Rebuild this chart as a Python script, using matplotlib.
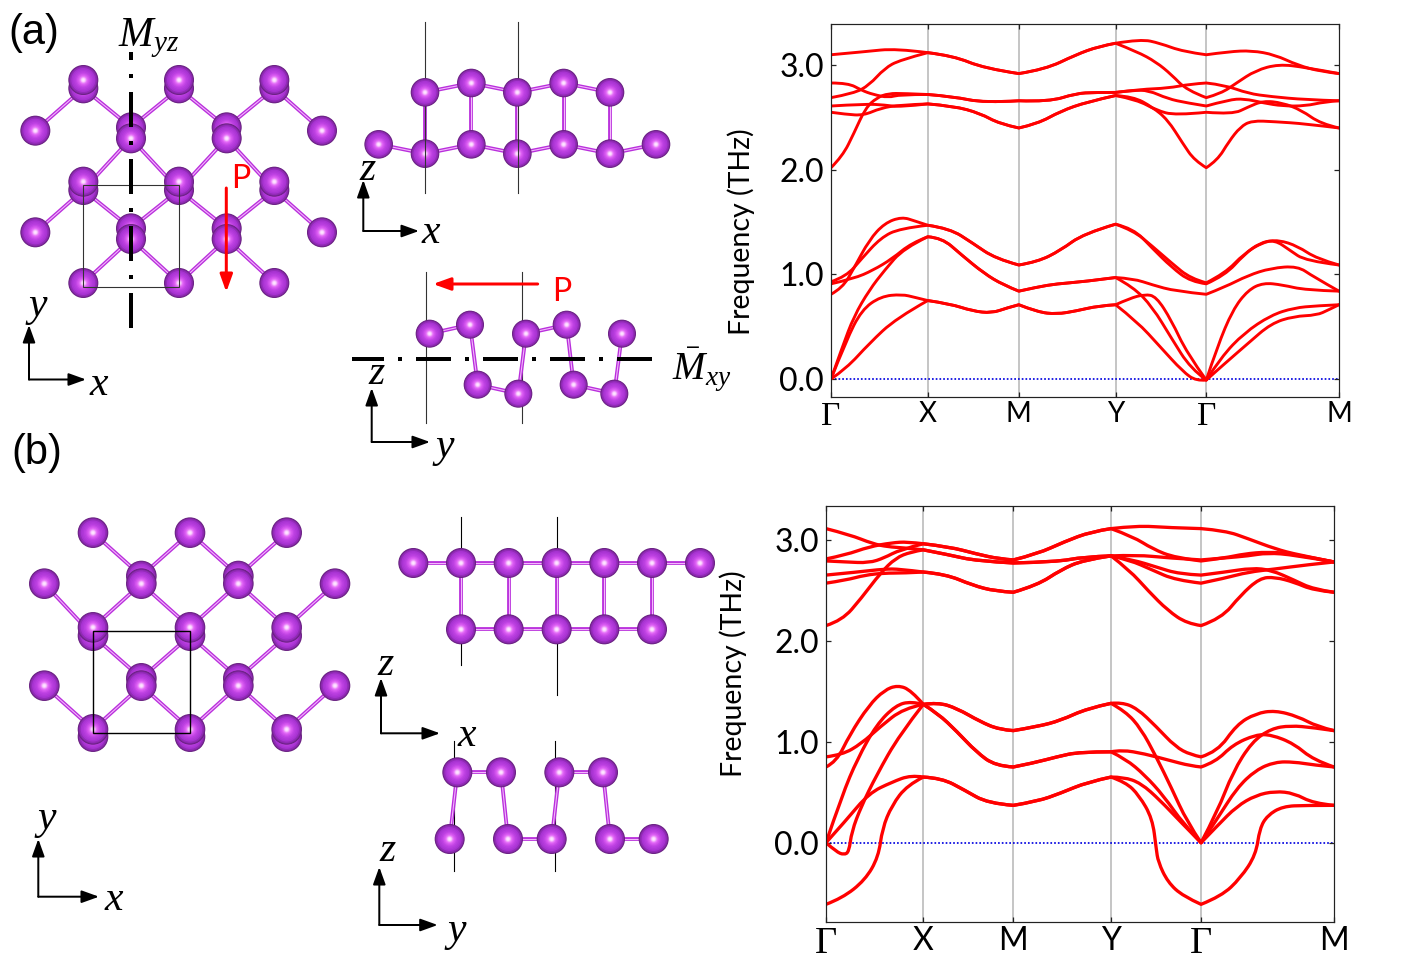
import matplotlib
matplotlib.use('Agg')
import matplotlib.pyplot as plt
from matplotlib.patches import Circle, PathPatch, Rectangle
from matplotlib.path import Path
from matplotlib.colors import LinearSegmentedColormap

W, H = 1417, 967
PX = 0.72  # one pixel in points at dpi 100

plt.rcParams['font.family'] = ['Lato', 'DejaVu Sans']
plt.rcParams['mathtext.fontset'] = 'custom'
plt.rcParams['mathtext.it'] = 'Liberation Serif:italic'
plt.rcParams['mathtext.rm'] = 'Liberation Serif'

# ---- phonon bands, panel (a) ----
tick_labels = ['Γ', 'X', 'M', 'Y', 'Γ', 'M']
a_nodes = [160, 413, 651, 904, 1141, 1488]
a_k = [
    [160, 250, 330, 413, 480, 560, 651, 720, 800, 860, 904, 970, 1020, 1080, 1141, 1200, 1260, 1320, 1380, 1440, 1488],
    [160, 220, 260, 300, 340, 413, 480, 560, 651, 720, 800, 860, 904, 960, 1010, 1050, 1090, 1141, 1180, 1220, 1270, 1330, 1400, 1488],
    [160, 205, 240, 270, 310, 340, 413, 480, 560, 651, 730, 800, 850, 904, 970, 1040, 1100, 1141, 1190, 1250, 1310, 1400, 1488],
    [160, 250, 300, 340, 413, 480, 550, 600, 651, 700, 760, 830, 904, 950, 1000, 1040, 1080, 1110, 1141, 1170, 1200, 1230, 1260, 1320, 1400, 1488],
    [160, 190, 220, 250, 280, 310, 350, 413, 480, 560, 651, 730, 800, 850, 904, 950, 990, 1040, 1090, 1141, 1200, 1240, 1290, 1340, 1400, 1450, 1488],
    [160, 200, 245, 290, 340, 413, 480, 550, 600, 651, 700, 760, 830, 904, 960, 1010, 1060, 1141, 1210, 1250, 1290, 1340, 1390, 1440, 1488],
    [160, 190, 220, 260, 300, 345, 380, 413, 470, 530, 590, 651, 700, 760, 820, 904, 950, 1000, 1050, 1100, 1141, 1190, 1240, 1290, 1330, 1380, 1430, 1488],
    [160, 200, 240, 290, 340, 413, 470, 530, 590, 651, 700, 760, 820, 904, 950, 1000, 1050, 1100, 1141, 1190, 1240, 1280, 1320, 1360, 1400, 1488],
    [160, 220, 270, 320, 370, 413, 450, 500, 560, 610, 651, 700, 750, 820, 904, 950, 1000, 1060, 1141, 1190, 1250, 1310, 1380, 1420, 1488],
    [160, 190, 220, 260, 300, 350, 413, 450, 500, 560, 610, 651, 700, 750, 820, 904, 950, 1000, 1050, 1100, 1141, 1170, 1210, 1250, 1290, 1340, 1400, 1488],
    [160, 200, 240, 290, 345, 380, 413, 470, 530, 580, 620, 651, 700, 750, 800, 860, 904, 940, 980, 1010, 1050, 1090, 1141, 1180, 1240, 1310, 1370, 1430, 1488],
    [160, 200, 260, 330, 413, 470, 530, 580, 620, 651, 700, 750, 800, 860, 904, 960, 1020, 1080, 1115, 1141, 1190, 1250, 1310, 1370, 1430, 1460, 1488],
]
a_f = [
    [3.10, 3.13, 3.16, 3.12, 3.09, 2.97, 2.92, 2.96, 3.10, 3.18, 3.21, 3.25, 3.21, 3.13, 3.10, 3.13, 3.14, 3.10, 3.00, 2.94, 2.92],
    [2.69, 2.73, 2.81, 2.97, 3.05, 3.12, 3.09, 2.97, 2.92, 2.96, 3.10, 3.18, 3.21, 3.13, 3.03, 2.91, 2.76, 2.69, 2.73, 2.83, 2.95, 3.01, 2.98, 2.92],
    [2.83, 2.83, 2.76, 2.72, 2.69, 2.72, 2.72, 2.70, 2.64, 2.66, 2.65, 2.73, 2.74, 2.74, 2.77, 2.78, 2.82, 2.83, 2.81, 2.73, 2.70, 2.67, 2.66],
    [2.61, 2.63, 2.62, 2.60, 2.63, 2.61, 2.54, 2.44, 2.40, 2.44, 2.56, 2.65, 2.71, 2.70, 2.60, 2.48, 2.25, 2.09, 2.02, 2.09, 2.27, 2.41, 2.47, 2.46, 2.44, 2.40],
    [2.02, 2.13, 2.35, 2.59, 2.69, 2.73, 2.73, 2.72, 2.70, 2.64, 2.66, 2.65, 2.73, 2.74, 2.74, 2.76, 2.76, 2.68, 2.64, 2.61, 2.67, 2.68, 2.64, 2.61, 2.61, 2.65, 2.66],
    [2.55, 2.53, 2.52, 2.59, 2.62, 2.63, 2.61, 2.54, 2.44, 2.40, 2.44, 2.56, 2.65, 2.71, 2.67, 2.57, 2.52, 2.55, 2.53, 2.60, 2.66, 2.64, 2.57, 2.44, 2.40],
    [0.81, 0.87, 1.06, 1.33, 1.49, 1.55, 1.51, 1.47, 1.44, 1.30, 1.15, 1.09, 1.12, 1.23, 1.39, 1.48, 1.42, 1.27, 1.11, 0.96, 0.92, 1.01, 1.20, 1.31, 1.33, 1.27, 1.15, 1.09],
    [0.93, 0.98, 1.15, 1.35, 1.44, 1.47, 1.44, 1.30, 1.15, 1.09, 1.12, 1.23, 1.39, 1.48, 1.44, 1.25, 1.07, 0.93, 0.91, 0.99, 1.19, 1.30, 1.33, 1.23, 1.13, 1.09],
    [0.91, 0.96, 1.04, 1.15, 1.30, 1.36, 1.35, 1.19, 1.01, 0.90, 0.84, 0.88, 0.91, 0.93, 0.97, 0.96, 0.90, 0.84, 0.81, 0.88, 0.99, 1.06, 1.08, 0.98, 0.84],
    [0.00, 0.31, 0.60, 0.85, 1.04, 1.25, 1.36, 1.35, 1.19, 1.01, 0.90, 0.84, 0.88, 0.91, 0.93, 0.97, 0.88, 0.69, 0.39, 0.10, -0.01, 0.31, 0.66, 0.85, 0.92, 0.90, 0.85, 0.84],
    [0.00, 0.37, 0.66, 0.79, 0.81, 0.78, 0.75, 0.72, 0.65, 0.63, 0.68, 0.71, 0.64, 0.62, 0.65, 0.70, 0.71, 0.77, 0.81, 0.79, 0.56, 0.25, -0.01, 0.21, 0.44, 0.61, 0.68, 0.70, 0.71],
    [0.00, 0.10, 0.34, 0.58, 0.75, 0.72, 0.65, 0.63, 0.68, 0.71, 0.64, 0.62, 0.65, 0.70, 0.71, 0.55, 0.31, 0.07, -0.02, -0.01, 0.15, 0.34, 0.53, 0.60, 0.61, 0.66, 0.71],
]

# ---- phonon bands, panel (b) ----
b_nodes = [148, 402, 637, 892, 1127, 1474]
b_k = [
    [148, 210, 270, 310, 350, 402, 470, 540, 637, 750, 820, 892, 960, 1040, 1127, 1190, 1250, 1300, 1370, 1474],
    [148, 200, 260, 320, 360, 402, 470, 540, 600, 637, 700, 770, 840, 892, 960, 1040, 1127, 1190, 1250, 1320, 1380, 1474],
    [148, 200, 260, 300, 340, 402, 470, 540, 600, 637, 700, 770, 840, 892, 950, 1000, 1060, 1127, 1190, 1240, 1300, 1370, 1474],
    [148, 190, 240, 290, 330, 370, 402, 470, 540, 637, 750, 820, 892, 950, 1010, 1070, 1127, 1190, 1260, 1310, 1370, 1420, 1474],
    [148, 230, 300, 340, 402, 460, 530, 590, 637, 700, 760, 820, 892, 940, 1000, 1060, 1127, 1190, 1250, 1320, 1400, 1474],
    [148, 200, 250, 300, 350, 402, 460, 530, 590, 637, 700, 760, 820, 892, 940, 990, 1040, 1090, 1127, 1180, 1230, 1280, 1320, 1370, 1420, 1474],
    [148, 175, 210, 260, 300, 335, 370, 402, 440, 490, 540, 590, 637, 690, 750, 810, 892, 920, 980, 1040, 1100, 1127, 1165, 1210, 1270, 1310, 1370, 1420, 1474],
    [148, 190, 240, 290, 350, 402, 440, 490, 550, 600, 637, 700, 760, 830, 892, 920, 960, 1010, 1060, 1100, 1127, 1170, 1220, 1270, 1320, 1380, 1430, 1474],
    [148, 190, 230, 280, 330, 370, 402, 440, 490, 550, 600, 637, 700, 760, 830, 892, 930, 970, 1010, 1050, 1090, 1127, 1170, 1210, 1260, 1310, 1360, 1420, 1474],
    [148, 175, 195, 208, 215, 240, 280, 340, 402, 440, 490, 540, 590, 637, 690, 750, 810, 892, 930, 980, 1030, 1080, 1127, 1170, 1220, 1270, 1320, 1370, 1420, 1474],
    [148, 200, 260, 320, 370, 402, 450, 510, 570, 637, 700, 760, 830, 892, 925, 970, 1020, 1070, 1127, 1170, 1220, 1270, 1320, 1370, 1420, 1474],
    [148, 190, 250, 285, 295, 320, 360, 402, 450, 510, 570, 637, 700, 760, 830, 892, 930, 965, 1000, 1010, 1015, 1040, 1080, 1127, 1180, 1230, 1270, 1280, 1300, 1340, 1400, 1474],
]
b_f = [
    [3.11, 3.05, 2.96, 2.93, 2.92, 2.90, 2.85, 2.79, 2.77, 2.78, 2.83, 2.84, 2.85, 2.82, 2.80, 2.82, 2.84, 2.87, 2.85, 2.78],
    [2.81, 2.85, 2.93, 2.97, 2.98, 2.96, 2.93, 2.86, 2.81, 2.80, 2.86, 2.98, 3.08, 3.11, 3.14, 3.12, 3.11, 3.09, 3.01, 2.91, 2.85, 2.78],
    [2.79, 2.78, 2.77, 2.82, 2.90, 2.96, 2.93, 2.86, 2.81, 2.80, 2.86, 2.98, 3.08, 3.11, 3.03, 2.91, 2.82, 2.79, 2.82, 2.86, 2.88, 2.86, 2.78],
    [2.15, 2.20, 2.42, 2.67, 2.82, 2.88, 2.90, 2.85, 2.79, 2.77, 2.78, 2.83, 2.84, 2.80, 2.73, 2.66, 2.65, 2.68, 2.72, 2.70, 2.60, 2.51, 2.48],
    [2.65, 2.68, 2.71, 2.71, 2.68, 2.66, 2.55, 2.49, 2.48, 2.55, 2.70, 2.80, 2.84, 2.80, 2.70, 2.60, 2.57, 2.62, 2.68, 2.71, 2.75, 2.78],
    [2.57, 2.60, 2.65, 2.67, 2.67, 2.68, 2.66, 2.55, 2.49, 2.48, 2.55, 2.70, 2.80, 2.84, 2.70, 2.49, 2.30, 2.17, 2.15, 2.22, 2.45, 2.62, 2.63, 2.58, 2.50, 2.48],
    [0.75, 0.80, 1.07, 1.36, 1.51, 1.56, 1.51, 1.37, 1.28, 1.10, 0.90, 0.76, 0.75, 0.79, 0.85, 0.90, 0.90, 0.92, 0.88, 0.82, 0.76, 0.75, 0.80, 0.97, 1.07, 1.07, 0.98, 0.82, 0.75],
    [0.85, 0.87, 0.98, 1.15, 1.33, 1.37, 1.39, 1.33, 1.20, 1.12, 1.11, 1.15, 1.21, 1.33, 1.38, 1.39, 1.33, 1.15, 0.95, 0.87, 0.85, 0.90, 1.17, 1.28, 1.31, 1.25, 1.15, 1.11],
    [0.00, 0.47, 0.83, 1.17, 1.36, 1.40, 1.37, 1.39, 1.33, 1.20, 1.12, 1.11, 1.15, 1.21, 1.33, 1.38, 1.30, 1.13, 0.85, 0.54, 0.21, 0.00, 0.31, 0.70, 1.00, 1.13, 1.16, 1.14, 1.11],
    [0.00, -0.09, -0.12, -0.09, 0.11, 0.36, 0.67, 1.07, 1.37, 1.28, 1.10, 0.90, 0.76, 0.75, 0.79, 0.85, 0.90, 0.90, 0.83, 0.67, 0.46, 0.19, 0.00, 0.24, 0.54, 0.72, 0.80, 0.80, 0.77, 0.75],
    [0.00, 0.22, 0.49, 0.60, 0.67, 0.65, 0.64, 0.52, 0.39, 0.37, 0.41, 0.49, 0.60, 0.65, 0.65, 0.59, 0.42, 0.22, 0.00, 0.17, 0.36, 0.47, 0.51, 0.49, 0.39, 0.37],
    [-0.61, -0.55, -0.37, -0.14, 0.14, 0.37, 0.57, 0.65, 0.64, 0.52, 0.39, 0.37, 0.41, 0.49, 0.60, 0.65, 0.60, 0.47, 0.24, -0.06, -0.19, -0.39, -0.53, -0.61, -0.53, -0.35, -0.12, 0.14, 0.27, 0.36, 0.37, 0.37],
]

a_top = (0, 0)
a_top_back = [(250, 265), (537, 265), (823, 265), (393, 382), (680, 382), (250, 570), (537, 570), (823, 570), (393, 685), (680, 685)]
a_top_front = [(250, 240), (537, 240), (823, 240), (106, 392), (393, 415), (680, 415), (966, 392),
               (250, 545), (537, 545), (823, 545), (106, 697), (393, 717), (680, 717), (966, 697),
               (250, 849), (537, 849), (823, 849)]
a_top_bonds = [((106, 392), (250, 265)), ((250, 265), (393, 382)), ((393, 382), (537, 265)), ((537, 265), (680, 382)),
               ((680, 382), (823, 265)), ((823, 265), (966, 392)), ((393, 415), (250, 570)), ((393, 415), (537, 570)),
               ((680, 415), (537, 570)), ((680, 415), (823, 570)), ((106, 697), (250, 570)), ((250, 570), (393, 685)),
               ((393, 685), (537, 570)), ((537, 570), (680, 685)), ((680, 685), (823, 570)), ((823, 570), (966, 697)),
               ((393, 717), (250, 849)), ((393, 717), (537, 849)), ((680, 717), (537, 849)), ((680, 717), (823, 849))]

a_side = (345, 10)
ax_up = [(240, 247), (379, 219), (517, 247), (656, 219), (795, 247)]
ax_low = [(101, 403), (240, 431), (379, 403), (517, 431), (656, 403), (795, 431), (933, 403)]
ay_up = [(254, 971), (375, 944), (543, 971), (665, 944), (831, 971)]
ay_low = [(398, 1124), (520, 1151), (686, 1124), (808, 1151)]
ay_bonds = [((254, 971), (375, 944)), ((543, 971), (665, 944)), ((398, 1124), (520, 1151)), ((686, 1124), (808, 1151)),
            ((375, 944), (398, 1124)), ((543, 971), (520, 1151)), ((665, 944), (686, 1124)), ((831, 971), (808, 1151))]

b_top = (0, 430)
b_top_back = [(424, 438), (715, 438), (279, 617), (570, 617), (860, 617), (424, 745), (715, 745), (279, 920), (570, 920), (860, 920)]
b_top_front = [(279, 308), (570, 308), (860, 308), (133, 461), (424, 461), (715, 461), (1005, 461),
               (279, 592), (570, 592), (860, 592), (133, 767), (424, 767), (715, 767), (1005, 767),
               (279, 898), (570, 898), (860, 898)]
b_top_bonds = [((279, 308), (424, 438)), ((424, 438), (570, 308)), ((570, 308), (715, 438)), ((715, 438), (860, 308)),
               ((133, 461), (279, 617)), ((424, 461), (279, 592)), ((424, 461), (570, 592)), ((715, 461), (570, 592)),
               ((715, 461), (860, 592)), ((1005, 461), (860, 592)), ((279, 617), (424, 745)), ((570, 617), (424, 745)),
               ((570, 617), (715, 745)), ((860, 617), (715, 745)), ((133, 767), (279, 898)), ((424, 767), (279, 898)),
               ((424, 767), (570, 898)), ((715, 767), (570, 898)), ((715, 767), (860, 898)), ((1005, 767), (860, 898))]

b_side = (345, 500)
bx_up = [(205, 189), (348, 189), (491, 189), (635, 189), (778, 189), (921, 189), (1065, 189)]
bx_low = [(348, 388), (491, 388), (635, 388), (778, 388), (921, 388)]
by_up = [(337, 817), (468, 817), (643, 817), (774, 817)]
by_low = [(314, 1017), (489, 1017), (620, 1017), (795, 1017), (926, 1017)]
by_bonds = [((337, 817), (468, 817)), ((643, 817), (774, 817)), ((489, 1017), (620, 1017)), ((795, 1017), (926, 1017)),
            ((337, 817), (314, 1017)), ((468, 817), (489, 1017)), ((643, 817), (620, 1017)), ((774, 817), (795, 1017))]

sphere_cmap = LinearSegmentedColormap.from_list('atom', [
    (0.0, '#ffffff'), (0.13, '#fcd4ff'), (0.3, '#e264f6'), (0.52, '#c043e4'),
    (0.8, '#a833d2'), (0.93, '#8c29b0'), (1.0, '#64207a')])


fig = plt.figure(figsize=(W / 100, H / 100), dpi=100, facecolor='white')
canvas = fig.add_axes([0, 0, 1, 1])
canvas.set_xlim(0, W)
canvas.set_ylim(H, 0)
canvas.axis('off')


def to_px(p, origin):
    return origin[0] + p[0] / 3, origin[1] + p[1] / 3


def draw_atoms(points, origin, r):
    for p in points:
        cx, cy = to_px(p, origin)
        for t in [1.0, 0.96, 0.9, 0.8, 0.7, 0.6, 0.5, 0.42, 0.34, 0.27, 0.2, 0.14, 0.08]:
            canvas.add_patch(Circle((cx, cy), r * t, fc=sphere_cmap(t), ec='none', zorder=2))


def draw_bonds(pairs, origin):
    for p, q in pairs:
        x0, y0 = to_px(p, origin)
        x1, y1 = to_px(q, origin)
        canvas.plot([x0, x1], [y0, y1], color='#b92fdc', lw=3.8 * PX, solid_capstyle='butt', zorder=2)
        canvas.plot([x0, x1], [y0, y1], color='#f3b8fc', lw=1.1 * PX, solid_capstyle='butt', zorder=2)


def chain(points):
    return list(zip(points[:-1], points[1:]))


def cell_line(x, y0, y1, origin, color='#333333'):
    px0, py0 = to_px((x, y0), origin)
    px1, py1 = to_px((x, y1), origin)
    canvas.plot([px0, px1], [py0, py1], color=color, lw=1.1 * PX, zorder=2)


def mirror_line(x0, y0, x1, y1):
    # dash 35 px, gap 14, dot 4, gap 14 with a 4 px wide line
    canvas.plot([x0, x1], [y0, y1], color='black', lw=4 * PX, solid_capstyle='butt', dash_capstyle='butt',
                linestyle=(0, (8.75, 3.5, 1.0, 3.5)), zorder=3)


def arrow(x0, y0, x1, y1, color='black', lw=2.0):
    canvas.annotate('', xy=(x1, y1), xytext=(x0, y0), zorder=3,
                    arrowprops=dict(arrowstyle='-|>,head_length=1.0,head_width=0.36', mutation_scale=10.5,
                                    color=color, lw=lw * PX, shrinkA=0, shrinkB=0))


def frame(ox, oy, top, right, up_label, up_pos, right_label, right_pos):
    arrow(ox, oy, ox, top)
    arrow(ox, oy, right, oy)
    for s, pos in ((up_label, up_pos), (right_label, right_pos)):
        canvas.text(pos[0], pos[1], s, family='Liberation Serif', style='italic', fontsize=30,
                    ha='center', va='center', zorder=4)


# panel (a) top view
draw_bonds(a_top_bonds, a_top)
draw_atoms(a_top_back, a_top, 15)
draw_atoms(a_top_front, a_top, 15)
canvas.add_patch(Rectangle((83.3, 185.3), 95.7, 101.3, fc='none', ec='#333333', lw=1.1 * PX, zorder=3))
mirror_line(131, 328.3, 131, 52)
arrow(226.3, 188, 226.3, 292, color='#ff0000', lw=3)
canvas.text(241, 179, 'P', color='#ff0000', fontsize=23, ha='center', va='center', zorder=4)
frame(29, 379.5, 325, 86, 'y', (38, 306), 'x', (99, 385))
canvas.text(59, 33, '(a)', family='Liberation Sans', fontsize=30, ha='right', va='center')
canvas.text(149, 38, r'$M_{yz}$', fontsize=30, ha='center', va='center', zorder=4)

# panel (a) side views
draw_bonds(chain(ax_low), a_side)
draw_bonds(chain(ax_up), a_side)
draw_bonds(list(zip(ax_up, ax_low[1:6])), a_side)
draw_atoms(ax_low, a_side, 14.3)
cell_line(240, 36, 549, a_side)
cell_line(518, 36, 549, a_side)
draw_atoms(ax_up, a_side, 14.3)
frame(363.3, 231, 180, 419, 'z', (368, 170), 'x', (431, 233))

cell_line(243, 786, 1238, a_side)
cell_line(532, 786, 1238, a_side)
draw_bonds(ay_bonds, a_side)
draw_atoms(ay_low, a_side, 14)
draw_atoms(ay_up, a_side, 14)
mirror_line(652, 358.7, 352, 358.7)
arrow(537.7, 284, 433, 284, color='#ff0000', lw=3)
canvas.text(562, 292, 'P', color='#ff0000', fontsize=23, ha='center', va='center', zorder=4)
frame(371.7, 442, 388, 430, 'z', (377, 374), 'y', (445, 447))
canvas.text(702, 369, r'$\bar{M}_{xy}$', fontsize=28, ha='center', va='center', zorder=4)

# panel (b) top view
draw_bonds(b_top_bonds, b_top)
draw_atoms(b_top_back, b_top, 15.3)
draw_atoms(b_top_front, b_top, 15.3)
canvas.add_patch(Rectangle((93, 631.3), 97, 101.7, fc='none', ec='black', lw=1.4 * PX, zorder=3))
frame(38.3, 896.7, 839, 99, 'y', (47, 819), 'x', (114, 900))
canvas.text(62, 453, '(b)', family='Liberation Sans', fontsize=30, ha='right', va='center')

# panel (b) side views
cell_line(348, 52, 494, b_side, 'black')
cell_line(635, 52, 584, b_side, 'black')
draw_bonds(chain(bx_low), b_side)
draw_bonds(chain(bx_up), b_side)
draw_bonds(list(zip(bx_up[1:6], bx_low)), b_side)
draw_atoms(bx_low, b_side, 15)
draw_atoms(bx_up, b_side, 15)
frame(381, 733.3, 678, 440, 'z', (386, 665), 'x', (466.7, 736))

cell_line(326, 724, 1114, b_side, 'black')
cell_line(631, 724, 1114, b_side, 'black')
draw_bonds(by_bonds, b_side)
draw_atoms(by_low, b_side, 15)
draw_atoms(by_up, b_side, 15)
frame(379.3, 925, 867, 437.7, 'z', (388, 851), 'y', (456.7, 931))


def band_path(k, f, nodes):
    # curve with the read points as controls, passing exactly through the high symmetry points
    n = len(k)
    is_node = [i == 0 or i == n - 1 or k[i] in nodes for i in range(n)]
    verts = [(k[0], f[0])]
    codes = [Path.MOVETO]
    for i in range(1, n):
        if is_node[i]:
            if is_node[i - 1]:
                verts.append((k[i], f[i]))
                codes.append(Path.LINETO)
            continue
        if is_node[i + 1]:
            end = (k[i + 1], f[i + 1])
        else:
            end = ((k[i] + k[i + 1]) / 2, (f[i] + f[i + 1]) / 2)
        verts += [(k[i], f[i]), end]
        codes += [Path.CURVE3, Path.CURVE3]
    return Path(verts, codes)


def band_axes(box, nodes, ks, fs, ylim, lw, yfont, xfont, pad):
    left, right, top, bottom = box
    ax = fig.add_axes([left / W, 1 - bottom / H, (right - left) / W, (bottom - top) / H])
    ax.patch.set_alpha(0)
    for x in nodes[1:-1]:
        ax.axvline(x, color='#b4b4b4', lw=1.5 * PX, zorder=1)
    ax.axhline(0, color='#0000e0', lw=1.7 * PX, linestyle=(0, (1, 1.2)), zorder=1.5)
    for k, f in zip(ks, fs):
        ax.add_patch(PathPatch(band_path(k, f, nodes), fc='none', ec='#ff0000', lw=lw * PX,
                               capstyle='round', joinstyle='round', zorder=2))
    ax.set_xlim(nodes[0], nodes[-1])
    ax.set_ylim(*ylim)
    ax.set_xticks(nodes)
    ax.set_xticklabels(tick_labels, fontsize=xfont)
    for lab, name in zip(ax.get_xticklabels(), tick_labels):
        if name == 'Γ':
            lab.set_family('Liberation Serif')
            lab.set_fontsize(xfont * 1.2)
    ax.set_yticks([0, 1, 2, 3])
    ax.set_yticklabels(['0.0', '1.0', '2.0', '3.0'], fontsize=yfont)
    ax.tick_params(axis='both', direction='in', length=3.5, width=0.9, top=True, right=True, color='#222222')
    ax.tick_params(axis='x', pad=pad)
    ax.tick_params(axis='y', pad=5)
    for s in ax.spines.values():
        s.set_linewidth(1.2 * PX)
        s.set_color('#222222')
    return ax


band_axes((831, 1339, 24, 397), a_nodes, a_k, a_f, (-0.172, 3.394), 2.9, 23, 20, 3)
band_axes((826, 1334, 506, 922), b_nodes, b_k, b_f, (-0.785, 3.334), 3.3, 23, 23, 3)

fig.text(741 / W, 1 - 232 / H, 'Frequency (THz)', rotation=90, fontsize=20.5, ha='center', va='center')
fig.text(733 / W, 1 - 674 / H, 'Frequency (THz)', rotation=90, fontsize=20.5, ha='center', va='center')

fig.savefig('out.png', dpi=100)
